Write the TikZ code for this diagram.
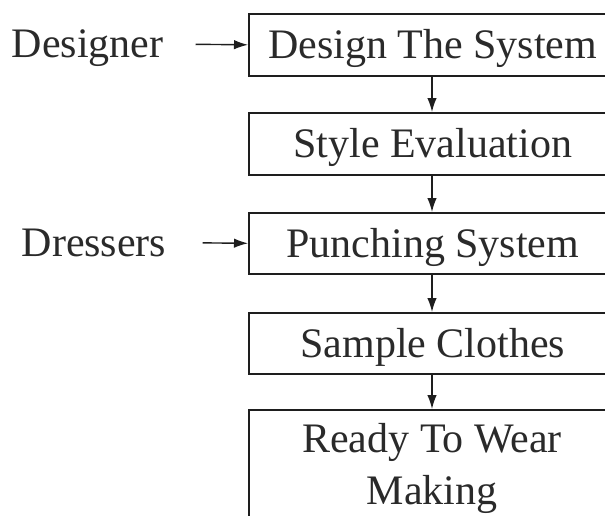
\documentclass[tikz,border=0pt]{standalone}
\usepackage{fontspec}
\setmainfont{Liberation Serif}
\usetikzlibrary{arrows.meta}
\definecolor{linecol}{HTML}{1E1E1E}
\definecolor{textcol}{HTML}{2A2A2A}
\begin{document}
\begin{tikzpicture}[x=1pt,y=-1pt,
  stepbox/.style={draw=linecol, line width=1.6pt, minimum width=368pt, inner sep=0pt,
    anchor=north west, text height=27.5pt, text depth=0pt,
    font=\fontsize{42}{50}\selectfont, text=textcol},
  lbl/.style={inner sep=0pt, text height=27.5pt, text depth=0pt,
    font=\fontsize{42}{50}\selectfont, text=textcol},
  txt/.style={inner sep=0pt, anchor=base, font=\fontsize{42}{50}\selectfont, text=textcol},
  arr/.style={draw=linecol, line width=1.4pt, -{Latex[length=14pt,width=9.5pt]}}]
\useasboundingbox (0,0) rectangle (605,515);
\clip (0,0) rectangle (605,515);
\node[stepbox, minimum height=62pt] (box1) at (248,13) {Design The System};
\node[stepbox, minimum height=62pt] (box2) at (248,112) {Style Evaluation};
\node[stepbox, minimum height=61pt] (box3) at (248,212) {Punching System};
\node[stepbox, minimum height=61pt] (box4) at (248,312) {Sample Clothes};
\node[stepbox, minimum height=150pt] (box5) at (248,409) {};
\node[txt] (t5a) at (432,452) {Ready To Wear};
\node[txt] (t5b) at (432,504) {Making};
\node[lbl] (designer) at (87.5,44) {Designer};
\node[lbl] (dressers) at (94,242.5) {Dressers};
\draw[arr, shorten <=32pt] (designer.east) -- (box1.west);
\draw[arr, shorten <=36pt] (dressers.east) -- (box3.west);
\draw[arr] (box1.south -| t5a) -- (box2.north -| t5a);
\draw[arr] (box2.south -| t5a) -- (box3.north -| t5a);
\draw[arr] (box3.south -| t5a) -- (box4.north -| t5a);
\draw[arr] (box4.south -| t5a) -- (box5.north -| t5a);
\end{tikzpicture}
\end{document}
